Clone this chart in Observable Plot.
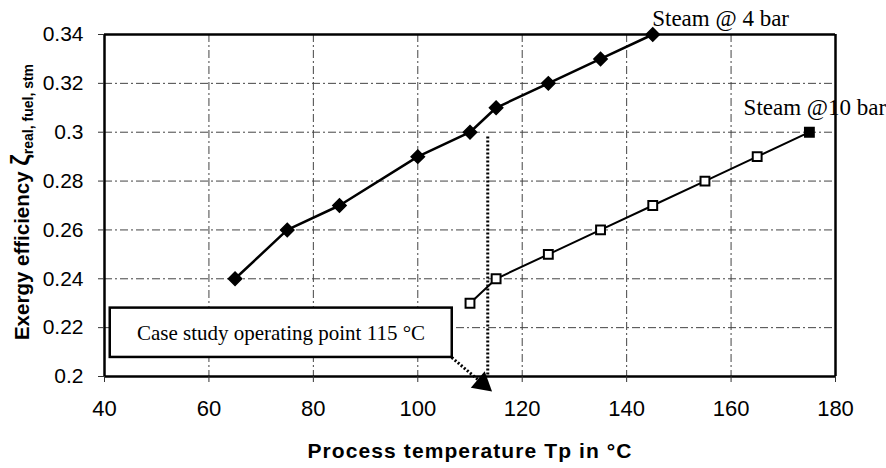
<!DOCTYPE html>
<html>
<head>
<meta charset="utf-8">
<script src="https://cdn.jsdelivr.net/npm/d3@7"></script>
<script src="https://cdn.jsdelivr.net/npm/@observablehq/plot@0.6"></script>
<style>
  html, body { margin: 0; padding: 0; background: #fff; }
  #chart { width: 886px; height: 468px; }
</style>
</head>
<body>
<div id="chart"></div>
<script>
// Series: Steam @ 4 bar
const temp4 = [65, 75, 85, 100, 110, 115, 125, 135, 145];
const eff4  = [0.24, 0.26, 0.27, 0.29, 0.30, 0.31, 0.32, 0.33, 0.34];
// Series: Steam @ 10 bar
const temp10 = [110, 115, 125, 135, 145, 155, 165, 175];
const eff10  = [0.230, 0.240, 0.250, 0.260, 0.270, 0.280, 0.290, 0.300];
// Tick values
const xTicks = [40, 60, 80, 100, 120, 140, 160, 180];
const yTicks = [0.2, 0.22, 0.24, 0.26, 0.28, 0.3, 0.32, 0.34];
// Annotation
const opTemp = 113.4;
const opLabel = "Case study operating point 115 °C";
const seriesLabels = ["Steam @ 4 bar", "Steam @10 bar"];

const d4 = temp4.map((t, i) => ({t, e: eff4[i]}));
const d10 = temp10.map((t, i) => ({t, e: eff10[i]}));
const last10 = d10.slice(-1);
const open10 = d10.slice(0, -1);

const serif = "'Liberation Serif', 'Times New Roman', serif";
const sans = "'Liberation Sans', Arial, sans-serif";

const arrowFrom = {x: 106.5, y: 0.2078};
const arrowHead = {x: 112.4, y: 0.1971};

const plot = Plot.plot({
  width: 886,
  height: 468,
  marginLeft: 104,
  marginRight: 51,
  marginTop: 34,
  marginBottom: 92,
  style: {fontFamily: sans, background: "#fff", overflow: "visible"},
  x: {domain: [40, 180]},
  y: {domain: [0.2, 0.34]},
  marks: [
    // grid
    Plot.ruleX(xTicks.slice(1, -1), {stroke: "#444", strokeWidth: 1, strokeDasharray: "8,3,2,3"}),
    Plot.ruleY(yTicks.slice(1, -1), {stroke: "#444", strokeWidth: 1, strokeDasharray: "8,3,2,3"}),
    // frame
    Plot.ruleX([40, 180], {stroke: "#000", strokeWidth: 2.5}),
    Plot.ruleY([0.2, 0.34], {stroke: "#000", strokeWidth: 2.5}),
    // axes
    Plot.axisX(xTicks, {tickSize: 6, tickPadding: 18, fontSize: 22, fontFamily: sans, label: null, stroke: "#333"}),
    Plot.axisY(yTicks, {tickSize: 6, tickPadding: 15, fontSize: 21, fontFamily: sans, label: null, tickFormat: d => String(+d.toFixed(2)), stroke: "#333"}),
    // operating point dotted line
    Plot.ruleX([opTemp], {y1: 0.298, y2: 0.2, stroke: "#000", strokeWidth: 3, strokeDasharray: "2,2"}),
    // series lines
    Plot.line(d4, {x: "t", y: "e", stroke: "#000", strokeWidth: 2.5}),
    Plot.line(d10, {x: "t", y: "e", stroke: "#000", strokeWidth: 2}),
    // markers
    Plot.dot(d4, {x: "t", y: "e", symbol: "diamond2", r: 6, fill: "#000", stroke: "#000"}),
    Plot.dot(open10, {x: "t", y: "e", symbol: "square", r: 5, fill: "#fff", stroke: "#000", strokeWidth: 2}),
    Plot.dot(last10, {x: "t", y: "e", symbol: "square", r: 5, fill: "#000", stroke: "#000", strokeWidth: 2}),
    // annotation box
    Plot.rect([{x1: 41.1, x2: 106.6, y1: 0.2078, y2: 0.2280}], {x1: "x1", x2: "x2", y1: "y1", y2: "y2", fill: "#fff", stroke: "#000", strokeWidth: 2.5}),
    Plot.text([opLabel], {x: 73.8, y: 0.2179, text: d => d, fontFamily: serif, fontSize: 21, fill: "#000"}),
    Plot.link([{x1: arrowFrom.x, y1: arrowFrom.y, x2: arrowHead.x, y2: arrowHead.y}], {x1: "x1", y1: "y1", x2: "x2", y2: "y2", stroke: "#000", strokeWidth: 3, strokeDasharray: "2,2", clip: false}),
    Plot.dot([arrowHead], {x: "x", y: "y", symbol: "triangle", r: 8, rotate: 130, fill: "#000", stroke: "none", clip: false}),
    // series labels
    Plot.text([seriesLabels[0]], {x: 144.9, y: 0.3467, text: d => d, textAnchor: "start", fontFamily: serif, fontSize: 23, fill: "#000", clip: false}),
    Plot.text([seriesLabels[1]], {x: 162.4, y: 0.3099, text: d => d, textAnchor: "start", fontFamily: serif, fontSize: 23, fill: "#000", clip: false})
  ]
});

document.getElementById("chart").appendChild(plot);

const svg = d3.select(plot);
// enforce tick label sizes
svg.selectAll("g[aria-label='y-axis tick label'] text").style("font-size", "21px");
svg.selectAll("g[aria-label='x-axis tick label'] text").style("font-size", "22px");

// Axis titles
svg.append("text")
  .attr("x", 470).attr("y", 458)
  .attr("text-anchor", "middle")
  .attr("font-family", sans).attr("font-weight", "bold").attr("font-size", 21)
  .attr("letter-spacing", 1.1)
  .attr("fill", "#000")
  .text("Process temperature Tp in °C");

const yt = svg.append("text")
  .attr("transform", "translate(29,202) rotate(-90)")
  .attr("text-anchor", "middle")
  .attr("font-family", sans).attr("font-weight", "bold").attr("font-size", 20.5)
  .attr("fill", "#000");
yt.append("tspan").text("Exergy efficiency ");
yt.append("tspan").attr("font-size", 25).text("ζ");
yt.append("tspan").attr("font-size", 14).attr("dy", 4).text("real, fuel, stm");
</script>
</body>
</html>
